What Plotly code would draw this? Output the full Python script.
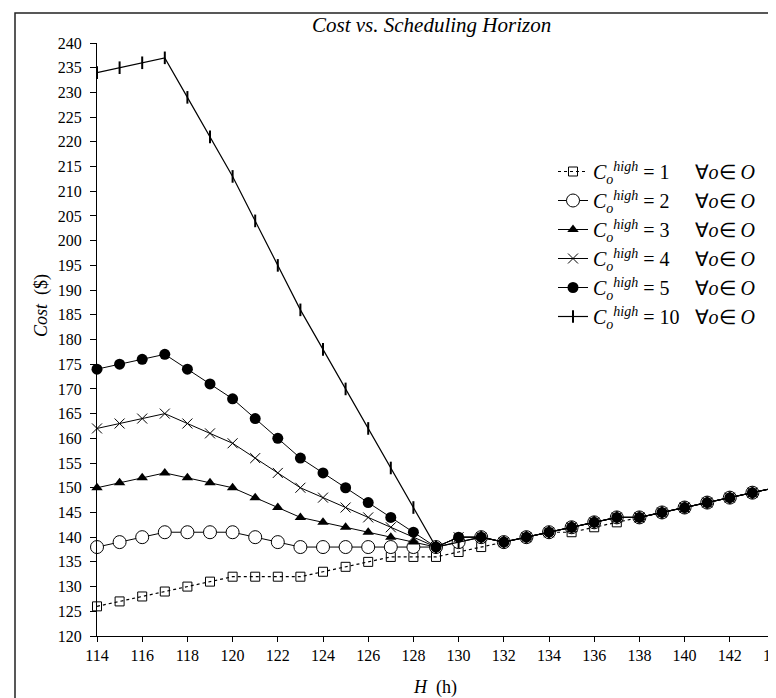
import plotly.graph_objects as go

H = list(range(114, 145))

cost_c1 = [126, 127, 128, 129, 130, 131, 132, 132, 132, 132, 133, 134, 135, 136, 136, 136,
           137, 138, 139, 140, 141, 141, 142, 143, 144, 145, 146, 147, 148, 149, 150]
cost_c2 = [138, 139, 140, 141, 141, 141, 141, 140, 139, 138, 138, 138, 138, 138, 138, 138,
           139, 140, 139, 140, 141, 142, 143, 144, 144, 145, 146, 147, 148, 149, 150]
cost_c3 = [150, 151, 152, 153, 152, 151, 150, 148, 146, 144, 143, 142, 141, 140, 139, 138,
           140, 140, 139, 140, 141, 142, 143, 144, 144, 145, 146, 147, 148, 149, 150]
cost_c4 = [162, 163, 164, 165, 163, 161, 159, 156, 153, 150, 148, 146, 144, 142, 140, 138,
           140, 140, 139, 140, 141, 142, 143, 144, 144, 145, 146, 147, 148, 149, 150]
cost_c5 = [174, 175, 176, 177, 174, 171, 168, 164, 160, 156, 153, 150, 147, 144, 141, 138,
           140, 140, 139, 140, 141, 142, 143, 144, 144, 145, 146, 147, 148, 149, 150]
cost_c10 = [234, 235, 236, 237, 229, 221, 213, 204, 195, 186, 178, 170, 162, 154, 146, 138,
            139, 140, 139, 140, 141, 142, 143, 144, 144, 145, 146, 147, 148, 149, 150]

c_values = ["1", "2", "3", "4", "5", "10"]
x_ticks = list(range(114, 145, 2))
y_ticks = list(range(120, 241, 5))

FONT = "Liberation Serif, Times New Roman, serif"
NB = "\u00a0"

def legend_name(c):
    pad = NB * (5 if len(c) == 1 else 3)
    return (f"<i>C</i><sub><i>o</i></sub><sup><i>high</i></sup>{NB}={NB}{c}"
            f"{pad}\u2200<i>o</i>\u2208{NB}<i>O</i>")

series = [
    (cost_c1, dict(symbol="square-open", size=9, color="black", line=dict(width=1, color="black")),
     dict(color="black", width=1.2, dash="3px,3px")),
    (cost_c2, dict(symbol="circle", size=13, color="white", line=dict(width=1, color="black")),
     dict(color="black", width=1)),
    (cost_c3, dict(symbol="triangle-up", size=10, color="black", line=dict(width=0)),
     dict(color="black", width=1)),
    (cost_c4, dict(symbol="x-thin-open", size=10, color="black", line=dict(width=1, color="black")),
     dict(color="black", width=1)),
    (cost_c5, dict(symbol="circle", size=11, color="black", line=dict(width=0)),
     dict(color="black", width=1)),
    (cost_c10, dict(symbol="line-ns-open", size=9, color="black", line=dict(width=2, color="black")),
     dict(color="black", width=1.2)),
]

fig = go.Figure()
for (vals, mk, ln), c in zip(series, c_values):
    fig.add_trace(go.Scatter(x=H, y=vals, mode="lines+markers", name=legend_name(c),
                             marker=mk, line=ln, cliponaxis=False))

W, Hgt = 776, 698
ml, mr, mt, mb = 89, 9, 35, 70
pw = W - ml - mr
ph = Hgt - mt - mb

def px_x(p):
    return (p - ml) / pw

def px_y(p):
    return 1 - (p - mt) / ph

fig.update_layout(
    width=W, height=Hgt,
    margin=dict(l=ml, r=mr, t=mt, b=mb, pad=0),
    paper_bgcolor="white", plot_bgcolor="white",
    font=dict(family=FONT, size=16, color="black"),
    showlegend=True,
    legend=dict(x=px_x(545), y=px_y(144), xanchor="left", yanchor="top",
                bgcolor="rgba(0,0,0,0)", borderwidth=0,
                font=dict(family=FONT, size=20, color="black"),
                itemwidth=30, tracegroupgap=0),
    xaxis=dict(range=[114, 144], tickvals=x_ticks, ticktext=[str(v) for v in x_ticks],
               showgrid=False, zeroline=False, showline=True, linecolor="black", linewidth=1,
               ticks="outside", ticklen=5, tickcolor="black", tickwidth=1,
               ticklabelstandoff=0, ticklabeloverflow="allow", tickfont=dict(family=FONT, size=16),
               automargin=False),
    yaxis=dict(range=[120, 240], tickvals=y_ticks, ticktext=[str(v) for v in y_ticks],
               showgrid=False, zeroline=False, showline=True, linecolor="black", linewidth=1,
               ticks="outside", ticklen=6, tickcolor="black", tickwidth=1,
               ticklabelstandoff=5, tickfont=dict(family=FONT, size=16),
               automargin=False),
    annotations=[
        dict(text="<i>Cost vs. Scheduling Horizon</i>", x=px_x(423), y=px_y(17),
             xref="paper", yref="paper", xanchor="center", yanchor="middle",
             showarrow=False, font=dict(family=FONT, size=21)),
        dict(text="<i>H</i>  (h)", x=px_x(427), y=px_y(679),
             xref="paper", yref="paper", xanchor="center", yanchor="middle",
             showarrow=False, font=dict(family=FONT, size=18)),
        dict(text="<i>Cost</i>  ($)", x=px_x(33), y=px_y(298), textangle=-90,
             xref="paper", yref="paper", xanchor="center", yanchor="middle",
             showarrow=False, font=dict(family=FONT, size=18)),
    ],
    shapes=[
        dict(type="rect", xref="paper", yref="paper",
             x0=px_x(7), y0=px_y(5), x1=px_x(800), y1=px_y(720),
             line=dict(color="#222222", width=1.5), fillcolor="rgba(0,0,0,0)", layer="below"),
    ],
)

fig.write_html("out.html")
